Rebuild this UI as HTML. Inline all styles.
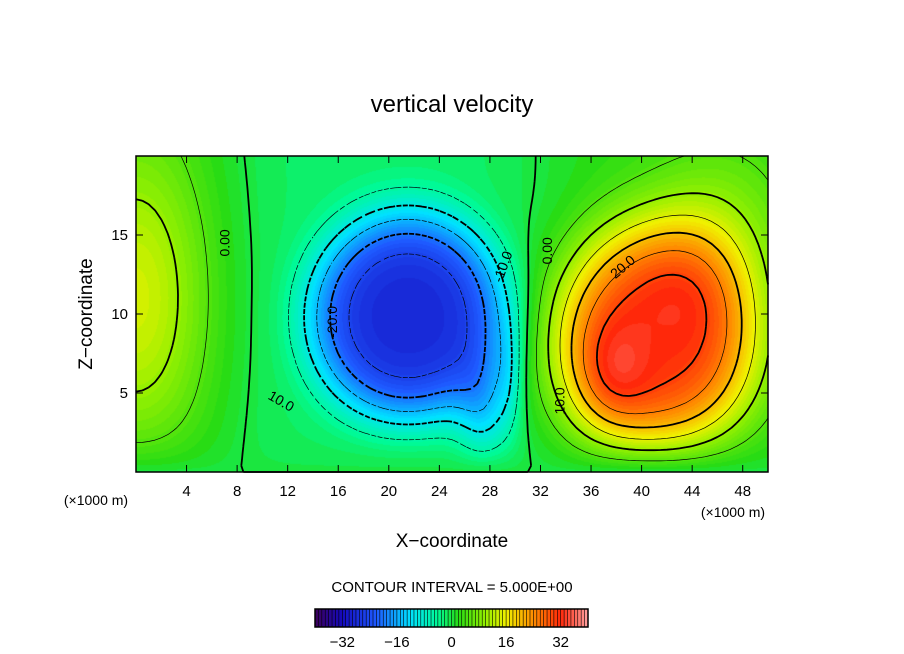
<!DOCTYPE html>
<html><head><meta charset="utf-8"><style>
body{margin:0;background:#fff;width:904px;height:654px;overflow:hidden;position:relative;font-family:"Liberation Sans",sans-serif}
#fld{position:absolute;left:136px;top:156px}
svg{position:absolute;left:0;top:0}
text{font-family:"Liberation Sans",sans-serif;fill:#000}
</style></head><body>
<canvas id="fld" width="632" height="316"></canvas>
<svg id="s" width="904" height="654">
<text x="452" y="112" font-size="24" text-anchor="middle">vertical velocity</text>
<text x="452" y="547" font-size="19" text-anchor="middle">X−coordinate</text>
<text transform="translate(92,314) rotate(-90)" font-size="19" text-anchor="middle">Z−coordinate</text>
<text x="96" y="505" font-size="14" text-anchor="middle">(×1000 m)</text>
<text x="733" y="517" font-size="14" text-anchor="middle">(×1000 m)</text>
<text x="452" y="592" font-size="15" text-anchor="middle">CONTOUR INTERVAL = 5.000E+00</text>
<g id="ax"></g><g id="cl"></g><g id="lb"></g><g id="cb"></g>
</svg>
<script>
// field described by blobs [x(km), z(km), amplitude, sx, sz, shape power]
const blobX=[21.5,27.5,41,37.5,0,46,29.5,19.5];
const blobZ=[9.8,3.5,8.2,6,11,15,6,10];
const blobA=[-26,-10,29,5,12,7,-5,-4];
const blobSX=[5.6,1.5,5.8,2,4,4,0.8,9.5];
const blobSZ=[4.8,2.5,5.4,2.5,7,4,2.5,60];
const blobP=[2,1,1.6,1,1,1,1,2];
const base=2;
const xTicks=[4,8,12,16,20,24,28,32,36,40,44,48];
const yTicks=[5,10,15];
const cbTicks=[-32,-16,0,16,32];
const levels=[-30,-25,-20,-15,-10,-5,0,5,10,15,20,25,30];
const labelText=['0.00','-20.0','-10.0','0.00','20.0','10.0','10.0'];
const labelX=[7,15.5,29,32.5,38.5,33.5,11.5];
const labelZ=[14.5,9.5,13,14,13,4.5,4.5];
const labelRot=[-90,-90,-70,-90,-40,-90,30];
const X0=136,X1=768,Y0=472,Y1=156;
const sx=v=>X0+(v/50)*(X1-X0), sy=v=>Y0-(v/20)*(Y0-Y1);
function f(x,z){let v=base;for(let i=0;i<blobX.length;i++){const dx=(x-blobX[i])/blobSX[i],dz=(z-blobZ[i])/blobSZ[i];v+=blobA[i]*Math.exp(-Math.pow((dx*dx+dz*dz)/2,blobP[i]));}return v*(1-Math.exp(-z/1.5));}
const stops=[[-40,[60,0,90]],[-32,[20,10,190]],[-22,[30,90,255]],[-12,[0,225,255]],[-4,[0,250,150]],[2,[40,220,20]],[10,[150,240,0]],[16,[240,240,0]],[24,[255,140,0]],[32,[255,40,10]],[40,[255,160,160]]];
function col(v){v=Math.max(-40,Math.min(40,v));for(let i=0;i<stops.length-1;i++){const a=stops[i],b=stops[i+1];if(v<=b[0]){const t=(v-a[0])/(b[0]-a[0]);return a[1].map((c,k)=>Math.round(c+(b[1][k]-c)*t));}}return stops[stops.length-1][1];}
const cv=document.getElementById('fld'),ctx=cv.getContext('2d');const img=ctx.createImageData(632,316);
for(let j=0;j<316;j++)for(let i=0;i<632;i++){const v=f(i/632*50,(316-j)/316*20);const c=col(Math.round(v));const p=(j*632+i)*4;img.data[p]=c[0];img.data[p+1]=c[1];img.data[p+2]=c[2];img.data[p+3]=255;}
ctx.putImageData(img,0,0);
const NS='http://www.w3.org/2000/svg';
function el(t,a,p){const e=document.createElementNS(NS,t);for(const k in a)e.setAttribute(k,a[k]);p.appendChild(e);return e;}
const cl=document.getElementById('cl');const N=100,M=50;
const g=[];for(let j=0;j<=M;j++){g[j]=[];for(let i=0;i<=N;i++)g[j][i]=f(i/N*50,j/M*20);}
levels.forEach(L=>{let d='';
for(let j=0;j<M;j++)for(let i=0;i<N;i++){const v=[g[j][i],g[j][i+1],g[j+1][i+1],g[j+1][i]];const P=[[i,j],[i+1,j],[i+1,j+1],[i,j+1]];const pts=[];
for(let e=0;e<4;e++){const a=v[e],b=v[(e+1)%4];if((a<L)!==(b<L)){const t=(L-a)/(b-a);const A=P[e],B=P[(e+1)%4];pts.push([sx((A[0]+(B[0]-A[0])*t)/N*50),sy((A[1]+(B[1]-A[1])*t)/M*20)]);}}
for(let k=0;k+1<pts.length;k+=2)d+=`M${pts[k][0].toFixed(1)},${pts[k][1].toFixed(1)}L${pts[k+1][0].toFixed(1)},${pts[k+1][1].toFixed(1)}`;}
const p=el('path',{d:d,fill:'none',stroke:'#000','stroke-width':(L%10===0)?1.8:0.7},cl);
if(L<0)p.setAttribute('stroke-dasharray','5,3');

});
const lb=document.getElementById('lb');
labelText.forEach((t,i)=>{const x=sx(labelX[i]),y=sy(labelZ[i]);
const tx=el('text',{x:x,y:y+5,'font-size':14,'text-anchor':'middle',transform:`rotate(${labelRot[i]},${x},${y})`},lb);tx.textContent=t;

});
const ax=document.getElementById('ax');
const fr=el('rect',{x:X0,y:Y1,width:X1-X0,height:Y0-Y1,fill:'none',stroke:'#000','stroke-width':1.5},ax);


xTicks.forEach(t=>{const x=sx(t);el('line',{x1:x,x2:x,y1:Y0,y2:Y0-7,stroke:'#000'},ax);el('line',{x1:x,x2:x,y1:Y1,y2:Y1+7,stroke:'#000'},ax);
const tx=el('text',{x:x,y:Y0+24,'font-size':15,'text-anchor':'middle'},ax);tx.textContent=t;

});
yTicks.forEach(t=>{const y=sy(t);el('line',{x1:X0,x2:X0+7,y1:y,y2:y,stroke:'#000'},ax);el('line',{x1:X1,x2:X1-7,y1:y,y2:y,stroke:'#000'},ax);
const tx=el('text',{x:X0-8,y:y+5,'font-size':15,'text-anchor':'end'},ax);tx.textContent=t;

});
const cb=document.getElementById('cb');const C0=315,C1=588,cs=v=>C0+(v+40)/80*(C1-C0);
for(let v=-40;v<40;v++){const r=el('rect',{x:cs(v),y:609,width:cs(v+1)-cs(v)+0.3,height:18,fill:'rgb('+col(v+0.5).join(',')+')'},cb);


el('line',{x1:cs(v),x2:cs(v),y1:609,y2:627,stroke:'#000','stroke-width':0.6},cb);}
el('rect',{x:C0,y:609,width:C1-C0,height:18,fill:'none',stroke:'#000','stroke-width':1.5},cb);
cbTicks.forEach(t=>{const tx=el('text',{x:cs(t),y:647,'font-size':15,'text-anchor':'middle'},cb);tx.textContent=t<0?'−'+(-t):t;

});
</script>
</body></html>
